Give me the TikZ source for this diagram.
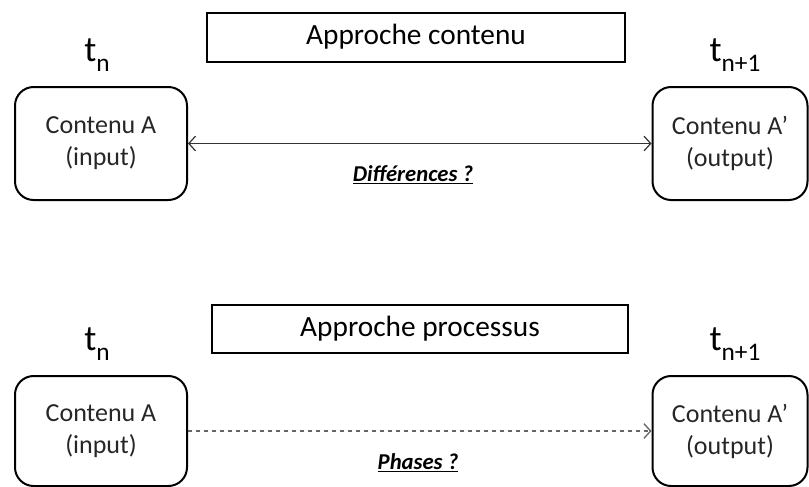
\documentclass[tikz,border=0pt]{standalone}
\usepackage{fontspec}
\setmainfont{Carlito}
\usetikzlibrary{arrows.meta}
\newcommand{\tidx}[1]{t\raisebox{-0.55ex}{\fontsize{19}{19}\selectfont #1}}

\begin{document}
\begin{tikzpicture}[x=0.75pt,y=-0.75pt,
	etat/.style={draw, line width=1.5pt, rounded corners=14pt, align=center, text=black!85, font=\fontsize{19.5}{24}\selectfont, inner sep=0pt},
	titre/.style={draw, line width=1.5pt, font=\fontsize{22}{26}\selectfont, inner sep=0pt},
	temps/.style={font=\fontsize{27}{30}\selectfont, inner sep=0pt},
	question/.style={font=\fontsize{17}{19}\selectfont\bfseries\itshape, inner sep=0pt},
	>={Straight Barb[length=5pt,width=11pt]}]

\useasboundingbox (0,0) rectangle (809,486);

% approche contenu
\node[titre, minimum width=418*0.75pt, minimum height=49*0.75pt](titre1) at(416,37) {Approche contenu};
\node[temps](tn1) at(97,55) {\tidx{n}};
\node[temps](tm1) at(735,55) {\tidx{n+1}};
\node[etat, minimum width=172*0.75pt, minimum height=113*0.75pt](inA1) at(101,143.5) {Contenu A\\(input)};
\node[etat, minimum width=155*0.75pt, minimum height=113*0.75pt](outA1) at(730,143.5) {Contenu A'\\(output)};
\node[question](diff) at(413,175) {\underline{Différences ?}};

\draw[<->, line width=0.9pt, black!80] (inA1) -- (outA1);

% approche processus
\node[titre, minimum width=416*0.75pt, minimum height=48*0.75pt](titre2) at(420,329) {Approche processus};
\node[temps](tn2) at(97,344) {\tidx{n}};
\node[temps](tm2) at(735,344) {\tidx{n+1}};
\node[etat, minimum width=172*0.75pt, minimum height=110*0.75pt](inA2) at(101,431) {Contenu A\\(input)};
\node[etat, minimum width=155*0.75pt, minimum height=110*0.75pt](outA2) at(730,431) {Contenu A'\\(output)};
\node[question](phases) at(418,463) {\underline{Phases ?}};

\draw[->, dashed, line width=1pt, black!60] (inA2) -- (outA2);

\end{tikzpicture}
\end{document}
